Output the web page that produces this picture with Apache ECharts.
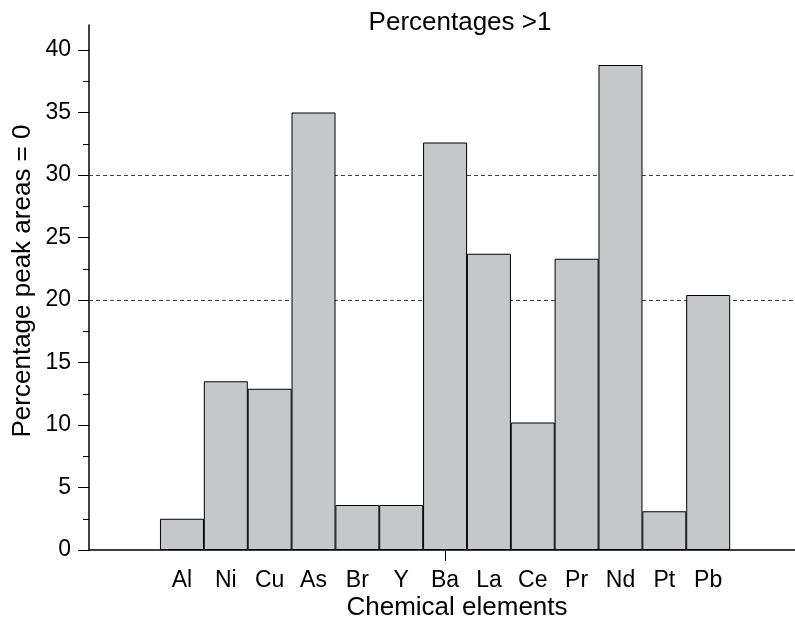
<!DOCTYPE html>
<html>
<head>
<meta charset="utf-8">
<script src="https://cdn.jsdelivr.net/npm/echarts@6/dist/echarts.min.js"></script>
<style>
  html, body { margin: 0; padding: 0; background: #fff; }
  #chart { width: 795px; height: 621px; }
</style>
</head>
<body>
<div id="chart"></div>
<script>
// Chemical elements and the percentage of peak areas equal to zero
const elements = ['Al', 'Ni', 'Cu', 'As', 'Br', 'Y', 'Ba', 'La', 'Ce', 'Pr', 'Nd', 'Pt', 'Pb'];
const percentages = [2.5, 13.5, 12.9, 35.0, 3.6, 3.6, 32.6, 23.7, 10.2, 23.3, 38.8, 3.1, 20.4];
const positions = [1, 2, 3, 4, 5, 6, 7, 8, 9, 10, 11, 12, 13];
const yMajorTicks = [0, 5, 10, 15, 20, 25, 30, 35, 40];
const yMinorTicks = [2.5, 7.5, 12.5, 17.5, 22.5, 27.5, 32.5, 37.5];
const referenceLevels = [20, 30];
const xTickAt = [7];

const font = "'Liberation Sans', Arial, sans-serif";
const chart = echarts.init(document.getElementById('chart'));

chart.setOption({
  animation: false,
  backgroundColor: '#fff',
  grid: { left: 89, top: 25, right: 0, bottom: 71 },
  xAxis: {
    type: 'value',
    min: -1.12,
    max: 14.98,
    splitLine: { show: false },
    axisLine: { show: true, onZero: false, lineStyle: { color: '#000', width: 1.5 } },
    axisTick: { show: true, customValues: xTickAt, length: 11, lineStyle: { color: '#000', width: 1 } },
    axisLabel: {
      customValues: positions,
      margin: 19,
      fontFamily: font,
      fontSize: 23,
      color: '#000',
      formatter: v => elements[Math.round(v) - 1] || ''
    }
  },
  yAxis: [
    {
      type: 'value',
      min: 0,
      max: 42,
      splitLine: { show: false },
      axisLine: { show: true, onZero: false, lineStyle: { color: '#000', width: 1.5 } },
      axisTick: { show: true, customValues: yMajorTicks, length: 11, lineStyle: { color: '#000', width: 1 } },
      axisLabel: {
        customValues: yMajorTicks,
        margin: 18,
        fontFamily: font,
        fontSize: 23,
        color: '#000'
      }
    },
    {
      type: 'value',
      min: 0,
      max: 42,
      position: 'left',
      splitLine: { show: false },
      axisLine: { show: false, onZero: false },
      axisTick: { show: true, customValues: yMinorTicks, length: 6, lineStyle: { color: '#000', width: 1 } },
      axisLabel: { show: false }
    }
  ],
  graphic: [
    {
      type: 'text',
      x: 460,
      y: 23,
      style: { text: 'Percentages >1', font: '26px ' + font, fill: '#000', align: 'center', verticalAlign: 'middle' }
    },
    {
      type: 'text',
      x: 457,
      y: 608,
      style: { text: 'Chemical elements', font: '26px ' + font, fill: '#000', align: 'center', verticalAlign: 'middle' }
    },
    {
      type: 'text',
      x: 23,
      y: 281,
      rotation: Math.PI / 2,
      style: { text: 'Percentage peak areas = 0', font: '26px ' + font, fill: '#000', align: 'center', verticalAlign: 'middle' }
    }
  ],
  series: [
    {
      type: 'line',
      data: [],
      z: 1,
      markLine: {
        z: 1,
        silent: true,
        symbol: 'none',
        label: { show: false },
        lineStyle: { color: '#444', width: 1, type: [4, 3] },
        data: referenceLevels.map(v => ({ yAxis: v }))
      }
    },
    {
      type: 'bar',
      z: 3,
      barWidth: 44,
      itemStyle: { color: '#c6c7c9', borderColor: '#000', borderWidth: 1 },
      data: positions.map((p, i) => [p, percentages[i]])
    }
  ]
});
</script>
</body>
</html>
